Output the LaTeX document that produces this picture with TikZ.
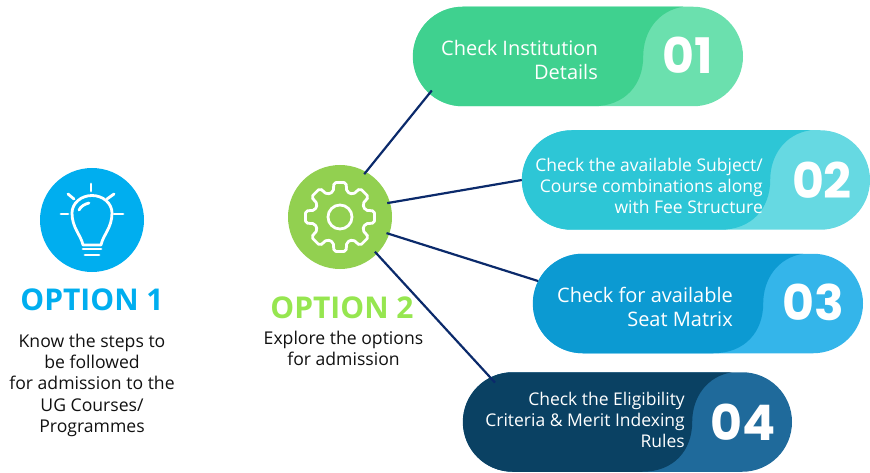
\documentclass[tikz,border=0pt]{standalone}
\usepackage{fontspec}
\setmainfont{Open Sans}
\newfontfamily\numfont{Poppins}
\usetikzlibrary{positioning,calc,shapes.misc}

\definecolor{greendark}{HTML}{3FD18F}
\definecolor{greenlight}{HTML}{6BE0AE}
\definecolor{tealdark}{HTML}{2DC6D6}
\definecolor{teallight}{HTML}{66D9E2}
\definecolor{bluedark}{HTML}{0C9AD2}
\definecolor{bluelight}{HTML}{34B5EA}
\definecolor{navydark}{HTML}{0A4163}
\definecolor{navylight}{HTML}{1F6A9B}
\definecolor{optionblue}{HTML}{00AEEF}
\definecolor{optiongreen}{HTML}{92D050}
\definecolor{titlegreen}{HTML}{96E650}
\definecolor{linkblue}{HTML}{0B2A6B}
\definecolor{bodyblack}{HTML}{111111}

\tikzset{
  iconcircle/.style={circle, minimum size=104pt, inner sep=0pt},
  optiontitle/.style={font=\fontsize{30}{32}\selectfont\bfseries, inner sep=0pt},
  optiontext/.style={font=\fontsize{17.6}{21.3}\selectfont, align=center, text=bodyblack, inner sep=0pt},
  pill/.style={rounded rectangle, minimum height=99.5pt, inner sep=0pt},
  pilltext/.style={text=white, align=right, anchor=east, inner sep=0pt},
  pillnum/.style={text=white, font=\fontsize{49}{50}\selectfont\numfont\bfseries, inner sep=0pt},
  link/.style={draw=linkblue, line width=2.2pt},
  iconline/.style={draw=white, line width=2.8pt, line cap=round, line join=round},
}

\begin{document}
\begin{tikzpicture}[x=1pt, y=-1pt]
        \useasboundingbox (0,0) rectangle (870,473);

        \node [iconcircle, fill=optionblue] (optionone) at (92,220) {};
        \node [optiontitle, text=optionblue, below=16pt of optionone] (titleone) {OPTION 1};
        \node [optiontext, below=23pt of titleone] (textone) {Know the steps to\\be followed\\for admission to the\\UG Courses/\\Programmes};

        \node [iconcircle, fill=optiongreen] (optiontwo) at (340,217) {};
        \node [optiontitle, text=titlegreen, below=27pt of optiontwo, xshift=2pt] (titletwo) {OPTION 2};
        \node [optiontext, below=12pt of titletwo, xshift=1.5pt] (texttwo) {Explore the options\\for admission};

        \node [pill, fill=greenlight, minimum width=330pt] (pillone) at (578,56.5) {};
        \node [pill, fill=teallight, minimum width=348pt] (pilltwo) at (696,180) {};
        \node [pill, fill=bluelight, minimum width=330pt] (pillthree) at (698,303.5) {};
        \node [pill, fill=navylight, minimum width=329pt] (pillfour) at (627.5,422) {};

        \foreach \pillname/\shade in {pillone/greendark, pilltwo/tealdark, pillthree/bluedark, pillfour/navydark} {
          \fill [\shade] (\pillname.west) arc [start angle=180, end angle=270, radius=49.75]
            -- ($(\pillname.east)+(-60,-49.75)$)
            .. controls ($(\pillname.east)+(-85,-46)$) and ($(\pillname.east)+(-100,-25)$) .. ($(\pillname.east)+(-100,0)$)
            .. controls ($(\pillname.east)+(-100,28)$) and ($(\pillname.east)+(-118,49.75)$) .. ($(\pillname.east)+(-150,49.75)$)
            -- ($(\pillname.west)+(49.75,49.75)$)
            arc [start angle=90, end angle=180, radius=49.75] -- cycle;
        }

        \node [pilltext, font=\fontsize{20}{24}\selectfont] (labelone) at (598,60) {Check Institution\\Details};
        \node [pilltext, font=\fontsize{17.5}{21.3}\selectfont] (labeltwo) at (763,186) {Check the available Subject/\\Course combinations along\\with Fee Structure};
        \node [pilltext, font=\fontsize{20}{24}\selectfont] (labelthree) at (733,307) {Check for available\\Seat Matrix};
        \node [pilltext, font=\fontsize{17.5}{21.3}\selectfont] (labelfour) at (685,420) {Check the Eligibility\\Criteria \& Merit Indexing\\Rules};

        \node [pillnum] (numone) at (688,55) {01};
        \node [pillnum] (numtwo) at (822,180) {02};
        \node [pillnum] (numthree) at (813,302) {03};
        \node [pillnum] (numfour) at (743,422) {04};

        \draw [link, shorten <=-3pt, shorten >=-4pt] (optiontwo.60) -- (pillone.194.6);
        \draw [link, shorten <=-3pt] (optiontwo.16.6) -- (pilltwo.180.3);
        \draw [link, shorten <=-3pt] (optiontwo.-19) -- (pillthree.172.4);
        \draw [link, shorten <=-3pt, shorten >=-7pt] (optiontwo.-45) -- (pillfour.162.1);

        \begin{scope}[shift={(optiontwo.center)}]
          \draw [iconline, rounded corners=2pt] (-22.5:26)
            \foreach \a in {0,45,...,315} { -- (\a-15:26) -- (\a-10:35) -- (\a+10:35) -- (\a+15:26) } -- cycle;
          \draw [iconline] (0,0) circle [radius=12];
        \end{scope}

        \begin{scope}[shift={(optionone.center)}]
          \draw [iconline] (-9,25) .. controls (-11,15) and (-20,8) .. (-20,-7)
            arc [start angle=180, end angle=360, x radius=20, y radius=17.5]
            .. controls (20,8) and (11,15) .. (9,25) -- cycle;
          \draw [iconline] (-13,-10) .. controls (-11,-14) and (-7,-16) .. (-3,-17);
          \draw [iconline] (-9,29) -- (9,29);
          \draw [iconline] (-7,35) -- (7,35);
          \draw [iconline] (-1,-36) -- (-1,-29);
          \draw [iconline] (-24,-26) -- (-18,-21);
          \draw [iconline] (22,-26) -- (15,-21);
          \draw [iconline] (-31,-6) -- (-24,-6);
          \draw [iconline] (22,-6) -- (31,-6);
        \end{scope}
      \end{tikzpicture}
\end{document}
